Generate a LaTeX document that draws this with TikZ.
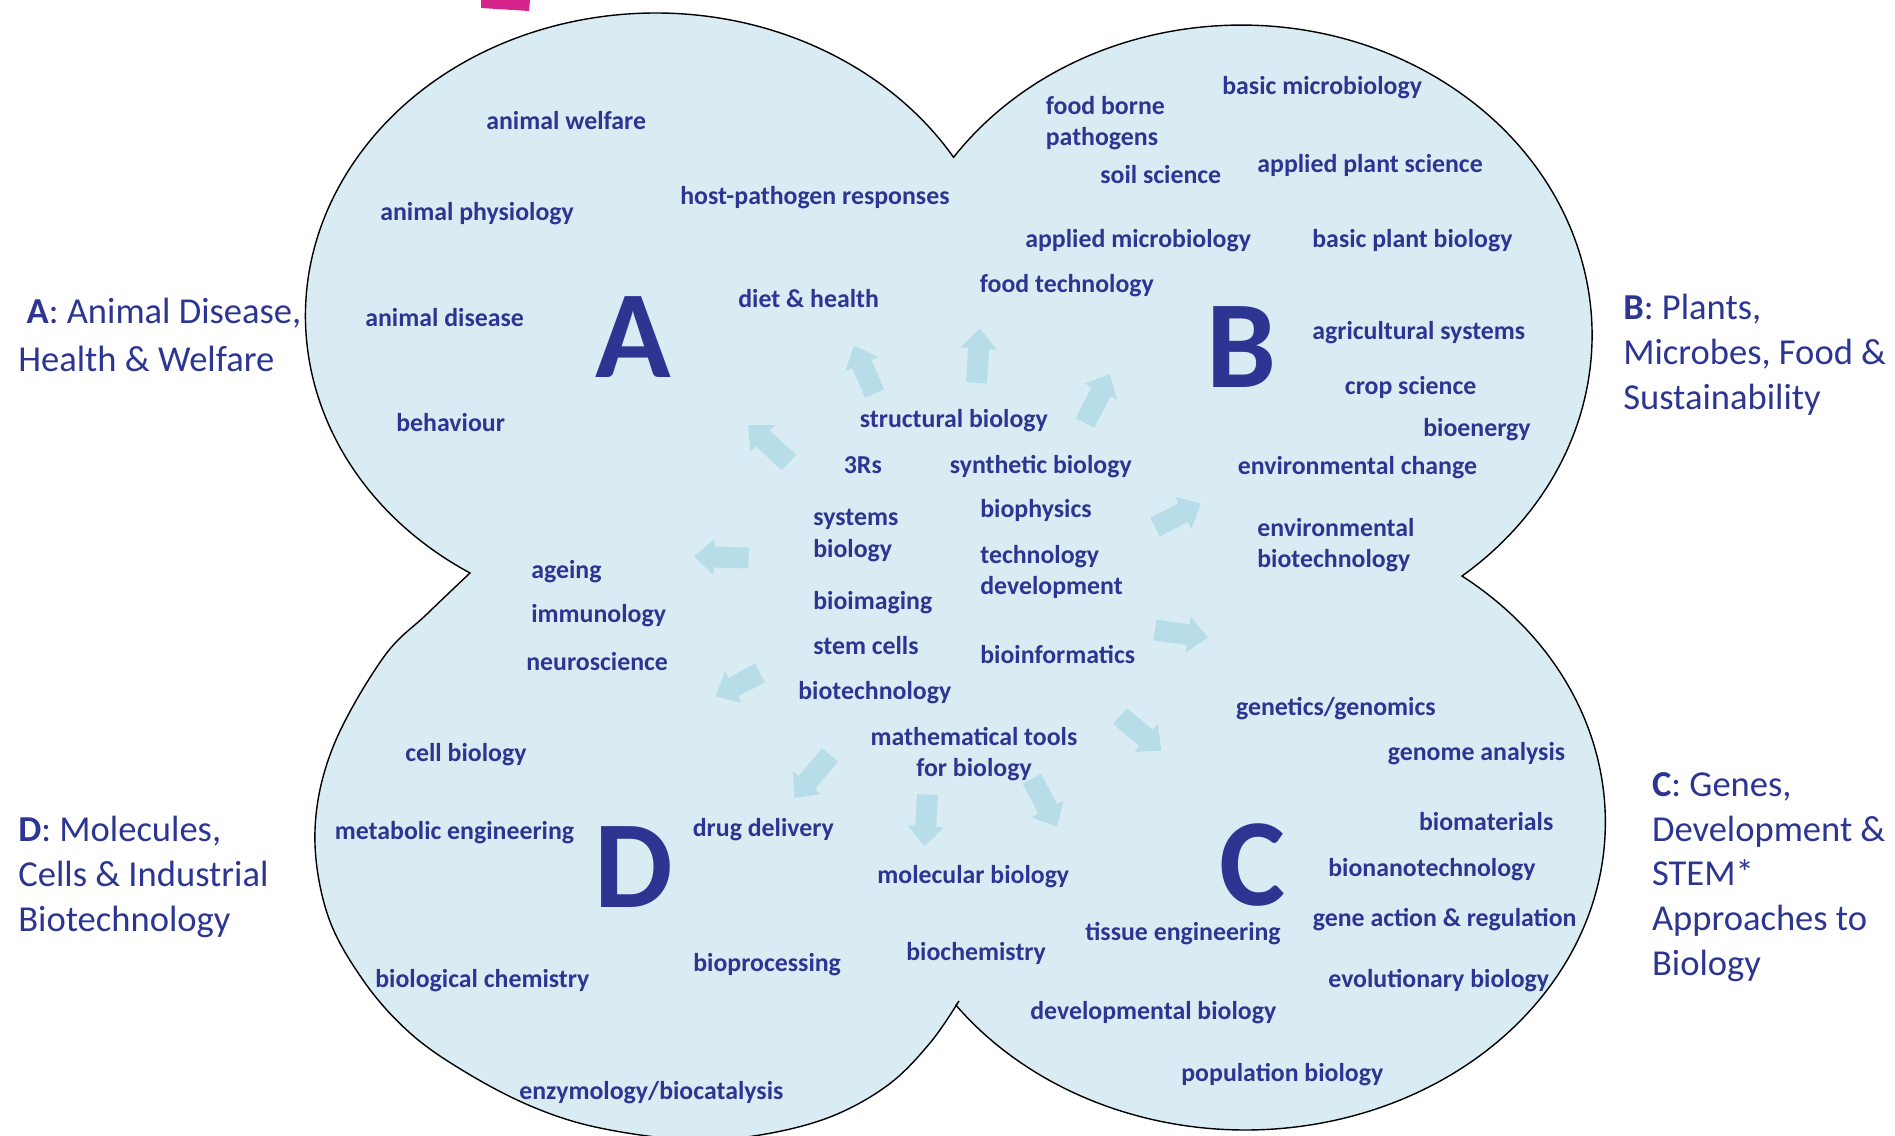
\documentclass[tikz,border=0pt]{standalone}
\usepackage{fontspec}
\setmainfont{Carlito}
\usepackage{tikz}
\usepackage{xcolor}
\usetikzlibrary{arrows.meta}
\definecolor{inkblue}{RGB}{44,54,146}
\definecolor{lobefill}{RGB}{218,236,243}
\definecolor{spokecol}{RGB}{183,222,232}
\definecolor{tabpink}{RGB}{214,35,140}

\begin{document}
\begin{tikzpicture}[
  x=0.02cm, y=-0.02cm,
  topic/.style={
    anchor=base west, inner sep=0pt, text=inkblue, align=left,
    font=\fontsize{14.7}{17.9}\selectfont\bfseries
  },
  letter/.style={
    anchor=base west, inner sep=0pt, text=inkblue,
    font=\fontsize{71}{71}\selectfont\bfseries
  },
  theme/.style={
    anchor=base west, inner sep=0pt, text=inkblue, align=left,
    font=\fontsize{20.8}{25.4}\selectfont
  },
  spoke/.style={
    draw=spokecol, line width=0.42cm,
    -{Triangle[length=0.4cm, width=0.7cm]}
  }
]
\useasboundingbox (0,0) rectangle (1895,1135);
\clip (0,0) rectangle (1895,1135);

% pink tab at the top edge
\fill[tabpink] (481,0) -- (530,0) -- (529,11) -- (481,8) -- cycle;

% the four lobes: A, B, C as arcs, D traced
\draw[fill=lobefill, line width=0.8pt]
  (470,573) arc[start angle=122, end angle=328.4, x radius=350, y radius=303]
  arc[start angle=215, end angle=411, x radius=351, y radius=310]
  arc[start angle=-53, end angle=143.5, x radius=360, y radius=308]
  -- plot[smooth, tension=0.6] coordinates {
    (959,1001) (930,1043) (888,1085) (830,1117) (760,1135) (690,1140)
    (600,1128) (533,1107) (467,1073) (410,1033) (363,980) (327,913)
    (315,830) (333,747) (383,658) (427,614) (470,573)}
  -- cycle;

% arrows out of the middle
\draw[spoke] (874.6,393.6) -- (854,345.7);
\draw[spoke] (976.4,382.9) -- (980,328.6);
\draw[spoke] (1085,423) -- (1110,374);
\draw[spoke] (789,462.5) -- (748,425);
\draw[spoke] (1155,527) -- (1201,503.6);
\draw[spoke] (748.6,558) -- (694,556.4);
\draw[spoke] (1155,630) -- (1208,637.5);
\draw[spoke] (760,673) -- (715.7,696.4);
\draw[spoke] (1120,716) -- (1161.4,750.7);
\draw[spoke] (830,755) -- (794,798);
\draw[spoke] (927.5,794.6) -- (924.6,846.4);
\draw[spoke] (1031.8,778.6) -- (1056.8,826.8);

% big letters
\node[letter] (la) at (595,377.7) {A};
\node[letter] (lb) at (1206,387.5) {B};
\node[letter] (lc) at (1219,905) {C};
\node[letter] (ld) at (594,907) {D};

% lobe A
\node[topic] (welfare) at (486,129.5) {animal welfare};
\node[topic] (physio) at (380,220) {animal physiology};
\node[topic] (hostpath) at (680,204.5) {host-pathogen responses};
\node[topic] (diet) at (738,307) {diet \& health};
\node[topic] (disease) at (365,326) {animal disease};
\node[topic] (behav) at (396,431) {behaviour};

% lobe B (two-line texts sit on their last line)
\node[topic] (foodborne) at (1045.5,145.5) {food borne\\pathogens};
\node[topic] (basicmicro) at (1222,94.6) {basic microbiology};
\node[topic] (applant) at (1257,173) {applied plant science};
\node[topic] (soil) at (1100,184) {soil science};
\node[topic] (apmicro) at (1025,247) {applied microbiology};
\node[topic] (basicplant) at (1312,247) {basic plant biology};
\node[topic] (foodtech) at (979.5,292) {food technology};
\node[topic] (agri) at (1312,339) {agricultural systems};
\node[topic] (crop) at (1344.6,394) {crop science};
\node[topic] (bioenergy) at (1423,436.6) {bioenergy};
\node[topic] (envchange) at (1237.5,474.6) {environmental change};
\node[topic] (envbiotech) at (1257,567.5) {environmental\\biotechnology};

% middle
\node[topic] (structural) at (859.5,427.5) {structural biology};
\node[topic] (threer) at (843.5,473) {3Rs};
\node[topic] (synthetic) at (949.5,473) {synthetic biology};
\node[topic] (systems) at (813,557) {systems\\biology};
\node[topic] (biophys) at (980,517.5) {biophysics};
\node[topic] (techdev) at (980,594.8) {technology\\development};
\node[topic] (bioimg) at (813,609) {bioimaging};
\node[topic] (stem) at (813,654) {stem cells};
\node[topic] (bioinf) at (980,663) {bioinformatics};
\node[topic] (biotech) at (798,699.5) {biotechnology};
\node[topic, anchor=base, align=center] (maths) at (974,776.5) {mathematical tools\\for biology};

% lobe D
\node[topic] (ageing) at (531,578) {ageing};
\node[topic] (immuno) at (531,622) {immunology};
\node[topic] (neuro) at (526,670) {neuroscience};
\node[topic] (cellbio) at (405,761) {cell biology};
\node[topic] (metabolic) at (334.5,839) {metabolic engineering};
\node[topic] (drug) at (692.5,836) {drug delivery};
\node[topic] (molbio) at (877,883.5) {molecular biology};
\node[topic] (bioproc) at (693,971) {bioprocessing};
\node[topic] (biochem) at (906,960) {biochemistry};
\node[topic] (biolchem) at (375,987) {biological chemistry};
\node[topic] (enzymo) at (519,1099) {enzymology/biocatalysis};

% lobe C
\node[topic] (genetics) at (1235.7,715) {genetics/genomics};
\node[topic] (genome) at (1387.5,760) {genome analysis};
\node[topic] (biomat) at (1418.75,830) {biomaterials};
\node[topic] (bionano) at (1328,876) {bionanotechnology};
\node[topic] (geneact) at (1312.5,926) {gene action \& regulation};
\node[topic] (tissue) at (1085,940) {tissue engineering};
\node[topic] (evol) at (1328,987.7) {evolutionary biology};
\node[topic] (devbio) at (1030,1019.8) {developmental biology};
\node[topic] (popbio) at (1181,1081) {population biology};

% themes outside (placed on their last line)
\node[theme, font=\fontsize{20.8}{27.2}\selectfont] (tha) at (18,371)
  {\ \textbf{A}: Animal Disease,\\Health \& Welfare};
\node[theme] (thb) at (1623,409)
  {\textbf{B}: Plants,\\Microbes, Food \&\\Sustainability};
\node[theme] (thc) at (1651.7,975)
  {\textbf{C}: Genes,\\Development \&\\STEM*\\Approaches to\\Biology};
\node[theme] (thd) at (18,931)
  {\textbf{D}: Molecules,\\Cells \& Industrial\\Biotechnology};

\end{tikzpicture}
\end{document}
